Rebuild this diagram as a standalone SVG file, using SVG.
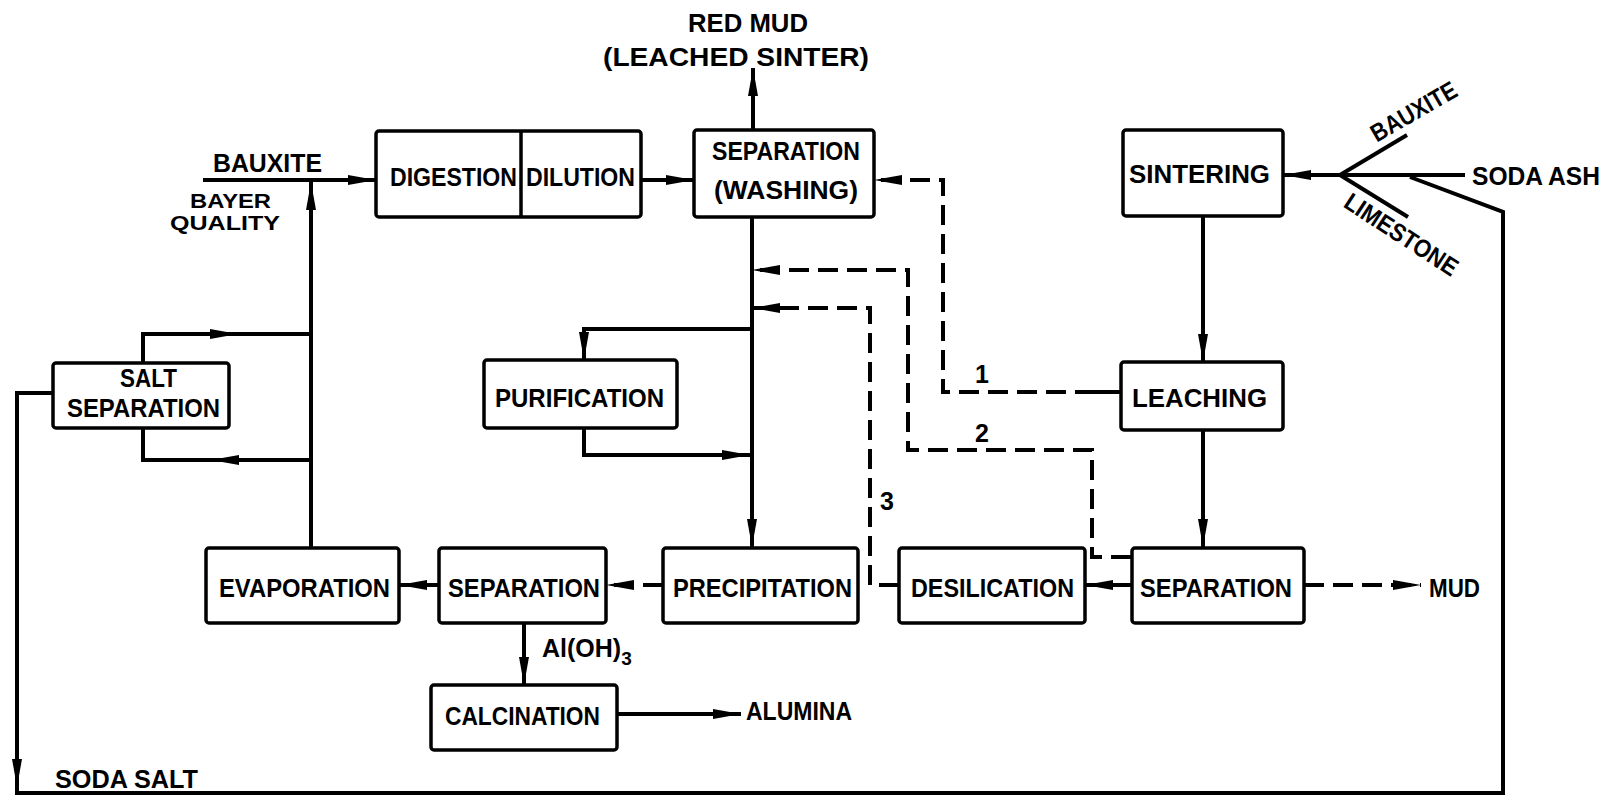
<svg xmlns="http://www.w3.org/2000/svg" width="1606" height="798" viewBox="0 0 1606 798">
<style>
.box{fill:#fff;stroke:#000;stroke-width:3.5}
.ln{fill:none;stroke:#000;stroke-width:4;stroke-linejoin:miter}
.ds{stroke-dasharray:20 9}
text{font-family:"Liberation Sans",Arial,sans-serif;font-weight:bold;font-size:25px;fill:#000}
.sm{font-size:21px}
</style>
<defs>
<marker id="ah" markerUnits="userSpaceOnUse" viewBox="0 0 28 12" markerWidth="28" markerHeight="12" refX="28" refY="6" orient="auto">
<path d="M0,1 L28,6 L0,11 z" fill="#000"/>
</marker>
</defs>
<rect width="1606" height="798" fill="#fff"/>

<g id="connectors">
<path class="ln" d="M203,180 H376" marker-end="url(#ah)"/>
<path class="ln" d="M311,548 V182" marker-end="url(#ah)"/>
<path class="ln" d="M143,363 V334 H238" marker-end="url(#ah)"/>
<path class="ln" d="M236,334 H311"/>
<path class="ln" d="M311,460 H211" marker-end="url(#ah)"/>
<path class="ln" d="M213,460 H143 V428"/>
<path class="ln" d="M53,393 H17 V787" marker-end="url(#ah)"/>
<path class="ln" d="M17,785 V793 H1503 V212 L1410,177"/>
<path class="ln" d="M642,180 H694" marker-end="url(#ah)"/>
<path class="ln" d="M753,130 V68" marker-end="url(#ah)"/>
<path class="ln" d="M752,218 V547" marker-end="url(#ah)"/>
<path class="ln" d="M752,329 H584 V360" marker-end="url(#ah)"/>
<path class="ln" d="M584,428 V455 H750" marker-end="url(#ah)"/>
<path class="ln" d="M1340,175 H1283" marker-end="url(#ah)"/>
<path class="ln" d="M1340,175 L1407,135"/>
<path class="ln" d="M1340,175 L1408,217"/>
<path class="ln" d="M1340,175 H1465"/>
<path class="ln" d="M1203,216 V362" marker-end="url(#ah)"/>
<path class="ln" d="M1203,430 V547" marker-end="url(#ah)"/>
<path class="ln" d="M1132,585 H1085" marker-end="url(#ah)"/>
<path class="ln ds" d="M663,585 H606" marker-end="url(#ah)"/>
<path class="ln" d="M439,585 H399" marker-end="url(#ah)"/>
<path class="ln" d="M524,623 V685" marker-end="url(#ah)"/>
<path class="ln" d="M617,714 H741" marker-end="url(#ah)"/>
<path class="ln ds" d="M1304,585 H1421" marker-end="url(#ah)"/>
<path class="ln ds" d="M1095,392 H943 V180 H874" marker-end="url(#ah)"/>
<path class="ln" d="M1121,392 H1095"/>
<path class="ln ds" d="M1131,557 H1092 V450 H908 V270 H752" marker-end="url(#ah)"/>
<path class="ln ds" d="M899,585 H870 V308 H752" marker-end="url(#ah)"/>
</g>

<g id="labels">
<text x="688" y="32" font-size="23" textLength="120" lengthAdjust="spacingAndGlyphs">RED MUD</text>
<text x="603" y="66" font-size="23" textLength="266" lengthAdjust="spacingAndGlyphs">(LEACHED SINTER)</text>
<text x="213" y="172" textLength="109" lengthAdjust="spacingAndGlyphs">BAUXITE</text>
<text x="190" y="208" class="sm" textLength="81" lengthAdjust="spacingAndGlyphs">BAYER</text>
<text x="170" y="230" class="sm" textLength="110" lengthAdjust="spacingAndGlyphs">QUALITY</text>
<text x="1472" y="185" textLength="128" lengthAdjust="spacingAndGlyphs">SODA ASH</text>
<text transform="translate(1414,112) rotate(-30)" x="0" y="8" text-anchor="middle" font-size="22" textLength="95" lengthAdjust="spacingAndGlyphs">BAUXITE</text>
<text transform="translate(1401,235) rotate(33)" x="0" y="8" text-anchor="middle" font-size="22" textLength="130" lengthAdjust="spacingAndGlyphs">LIMESTONE</text>
<text x="975" y="383" font-size="20">1</text>
<text x="975" y="442" font-size="20">2</text>
<text x="880" y="510" font-size="20">3</text>
<text x="1429" y="597" textLength="51" lengthAdjust="spacingAndGlyphs">MUD</text>
<text x="542" y="657" font-size="23">Al(OH)<tspan dy="8" font-size="19">3</tspan></text>
<text x="746" y="720" textLength="106" lengthAdjust="spacingAndGlyphs">ALUMINA</text>
<text x="55" y="788" textLength="143" lengthAdjust="spacingAndGlyphs">SODA SALT</text>
</g>

<g id="digestion-dilution">
<rect class="box" x="376" y="131" width="265" height="86" rx="3"/>
<line x1="521" y1="131" x2="521" y2="217" stroke="#000" stroke-width="3.5"/>
<text x="390" y="186" textLength="127" lengthAdjust="spacingAndGlyphs">DIGESTION</text>
<text x="526" y="186" textLength="109" lengthAdjust="spacingAndGlyphs">DILUTION</text>
</g>

<g id="separation-washing">
<rect class="box" x="694" y="130" width="180" height="87" rx="3"/>
<text x="712" y="160" textLength="148" lengthAdjust="spacingAndGlyphs">SEPARATION</text>
<text x="714" y="199" textLength="144" lengthAdjust="spacingAndGlyphs">(WASHING)</text>
</g>

<g id="sintering">
<rect class="box" x="1123" y="130" width="160" height="86" rx="3"/>
<text x="1129" y="183" textLength="141" lengthAdjust="spacingAndGlyphs">SINTERING</text>
</g>

<g id="salt-separation">
<rect class="box" x="53" y="363" width="176" height="65" rx="3"/>
<text x="120" y="387" textLength="57" lengthAdjust="spacingAndGlyphs">SALT</text>
<text x="67" y="417" textLength="153" lengthAdjust="spacingAndGlyphs">SEPARATION</text>
</g>

<g id="purification">
<rect class="box" x="484" y="360" width="193" height="68" rx="3"/>
<text x="495" y="407" textLength="169" lengthAdjust="spacingAndGlyphs">PURIFICATION</text>
</g>

<g id="leaching">
<rect class="box" x="1121" y="362" width="162" height="68" rx="3"/>
<text x="1132" y="407" textLength="135" lengthAdjust="spacingAndGlyphs">LEACHING</text>
</g>

<g id="evaporation">
<rect class="box" x="206" y="548" width="193" height="75" rx="3"/>
<text x="219" y="597" textLength="171" lengthAdjust="spacingAndGlyphs">EVAPORATION</text>
</g>

<g id="separation-bottom">
<rect class="box" x="439" y="548" width="167" height="75" rx="3"/>
<text x="448" y="597" textLength="152" lengthAdjust="spacingAndGlyphs">SEPARATION</text>
</g>

<g id="precipitation">
<rect class="box" x="663" y="548" width="195" height="75" rx="3"/>
<text x="673" y="597" textLength="179" lengthAdjust="spacingAndGlyphs">PRECIPITATION</text>
</g>

<g id="desilication">
<rect class="box" x="899" y="548" width="186" height="75" rx="3"/>
<text x="911" y="597" textLength="163" lengthAdjust="spacingAndGlyphs">DESILICATION</text>
</g>

<g id="separation-right">
<rect class="box" x="1132" y="548" width="172" height="75" rx="3"/>
<text x="1140" y="597" textLength="152" lengthAdjust="spacingAndGlyphs">SEPARATION</text>
</g>

<g id="calcination">
<rect class="box" x="431" y="685" width="186" height="65" rx="3"/>
<text x="445" y="725" textLength="155" lengthAdjust="spacingAndGlyphs">CALCINATION</text>
</g>
</svg>
